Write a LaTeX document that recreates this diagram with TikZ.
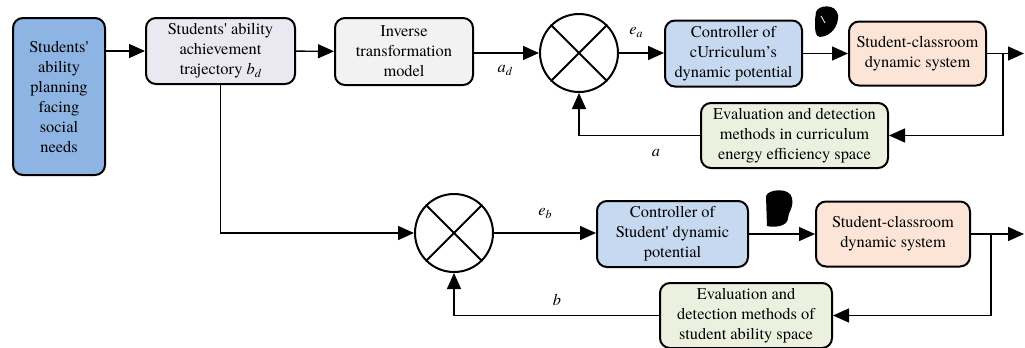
\documentclass[tikz,border=0pt]{standalone}
\usepackage{fontspec}
\setmainfont{texgyretermes}[Extension=.otf, UprightFont=*-regular, ItalicFont=*-italic, BoldFont=*-bold, BoldItalicFont=*-bolditalic]
\newfontfamily\apfont{texgyretermes}[Extension=.otf, UprightFont=*-regular, Ligatures=TeXOff]
\usetikzlibrary{arrows.meta}
\definecolor{cplan}{RGB}{141,180,226}
\definecolor{ctraj}{RGB}{234,232,241}
\definecolor{cinv}{RGB}{242,242,242}
\definecolor{cctrl}{RGB}{198,217,240}
\definecolor{csys}{RGB}{252,229,215}
\definecolor{ceval}{RGB}{235,241,222}
\newcommand{\subi}[2]{\textit{#1}{\fontsize{9}{9}\selectfont\raisebox{-2.2pt}{\textit{#2}}}}
\newcommand{\ap}{{\apfont\textquotesingle}}
\tikzset{
  box/.style={draw=black, line width=1.5pt, rounded corners=7.5pt, align=center, inner sep=0pt,
    font=\rmfamily\fontsize{12.3}{15}\selectfont},
  sumnode/.style={draw=black, circle, line width=1.5pt, minimum size=58.5pt, inner sep=0pt},
  conn/.style={line width=1.1pt, -{Triangle[length=12pt,width=10.5pt]}},
  lbl/.style={font=\rmfamily\fontsize{12.3}{15}\selectfont, inner sep=0pt}
}
\begin{document}
\begin{tikzpicture}[x=0.75pt,y=-0.75pt]
\useasboundingbox[fill=white] (0,0) rectangle (1025,347);
% nodes
\node[box, fill=cplan, minimum width=69pt, minimum height=117.75pt] (plan) at (59,96.5)
  {Students\ap\\ability\\planning\\facing\\social\\needs};
\node[box, fill=ctraj, minimum width=111.75pt, minimum height=49.5pt] (traj) at (220.5,51)
  {Students\ap\ ability\\achievement\\trajectory \subi{b}{d}};
\node[box, fill=cinv, minimum width=103.5pt, minimum height=50.25pt] (inv) at (404,51.5)
  {Inverse\\transformation\\model};
\node[sumnode] (s1) at (579,53) {};
\draw[line width=1.5pt] (s1.north west) -- (s1.south east) (s1.north east) -- (s1.south west);
\node[box, fill=cctrl, minimum width=102.75pt, minimum height=49.5pt] (c1) at (733.5,53.5)
  {Controller of\\cUrriculum’s\\dynamic potential};
\node[box, fill=csys, minimum width=102.75pt, minimum height=48pt] (p1) at (917.5,53.5)
  {Student-classroom\\dynamic system};
\node[box, fill=ceval, minimum width=140.25pt, minimum height=48.75pt] (m1) at (794.5,135.5)
  {Evaluation and detection\\methods in curriculum\\energy efficiency space};
\node[sumnode] (s2) at (454,233) {};
\draw[line width=1.5pt] (s2.north west) -- (s2.south east) (s2.north east) -- (s2.south west);
\node[box, fill=cctrl, minimum width=113.25pt, minimum height=49.5pt] (c2) at (672.5,234)
  {Controller of\\Student\ap\ dynamic\\potential};
\node[box, fill=csys, minimum width=115.5pt, minimum height=48.75pt] (p2) at (893,234)
  {Student-classroom\\dynamic system};
\node[box, fill=ceval, minimum width=129pt, minimum height=48.75pt] (m2) at (746,315.5)
  {Evaluation and\\detection methods of\\student ability space};
% coordinates
\coordinate (o1) at (1024,53.5);
\coordinate (o2) at (1024,234);
\coordinate (br1) at (1003,53.5);
\coordinate (br2) at (991,234);
% connectors
\draw[conn] (plan.east |- traj) -- (traj.west);
\draw[conn] (traj) -- (inv);
\draw[conn] (inv.east |- s1) -- (s1.west);
\draw[conn] (s1.east) -- (c1.west |- s1);
\draw[conn] (c1) -- (p1);
\draw[conn] (p1) -- (o1);
\draw[conn] (br1) |- (m1.east);
\draw[conn] (m1.west) -| (s1.south);
\draw[conn] (traj.south) |- (s2.west);
\draw[conn] (s2.east) -- (c2.west |- s2);
\draw[conn] (c2) -- (p2);
\draw[conn] (p2) -- (o2);
\draw[conn] (br2) |- (m2.east);
\draw[conn] (m2.west) -| (s2.south);
% labels
\node[lbl] (lad) at (505,70) {\subi{a}{d}};
\node[lbl] (lea) at (636,32) {\subi{e}{a}};
\node[lbl] (la) at (656,153) {\textit{a}};
\node[lbl] (leb) at (545,213) {\subi{e}{b}};
\node[lbl] (lb) at (557,300) {\textit{b}};
% blobs
\fill[black] (816,12) .. controls (818,5) and (836,3) .. (838,15) .. controls (839,25) and (832,36) .. (820,37) .. controls (815,37) and (815,30) .. (815,20) -- cycle;
\draw[white, line width=0.6pt] (821,16) -- (825,23);
\fill[black] (766,196) .. controls (768,189) and (790,187) .. (792,198) .. controls (794,208) and (788,212) .. (788,218) .. controls (788,226) and (775,228) .. (767,226) -- cycle;
\end{tikzpicture}
\end{document}
